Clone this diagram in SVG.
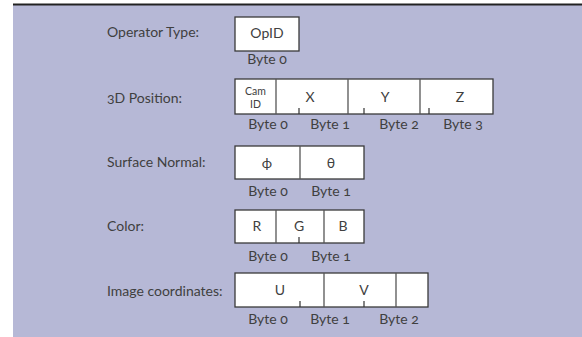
<svg xmlns="http://www.w3.org/2000/svg" width="582" height="337" viewBox="0 0 582 337">
<style>
.lbl{font-family:Lato,"Liberation Sans",sans-serif;font-size:14px;fill:#404040;font-variant-numeric:oldstyle-nums;}
.cell{font-family:Lato,"Liberation Sans",sans-serif;font-size:14px;fill:#404040;text-anchor:middle;}
.small{font-family:Lato,"Liberation Sans",sans-serif;font-size:10.5px;fill:#404040;text-anchor:middle;}
.byte{font-family:Lato,"Liberation Sans",sans-serif;font-size:14px;fill:#404040;text-anchor:middle;font-variant-numeric:oldstyle-nums;}
.box{fill:#ffffff;stroke:#3a3a3a;stroke-width:1.3;}
.div{stroke:#555555;stroke-width:1.3;}
.tick{stroke:#333333;stroke-width:1.2;}
</style>
<rect x="13" y="4" width="569" height="333" fill="#b6b8d6"/>
<line x1="13" y1="4.5" x2="582" y2="4.5" stroke="#222222" stroke-width="2"/>
<g id="operator-type">
<text class="lbl" x="107" y="37">Operator Type:</text>
<rect class="box" x="235" y="17" width="64" height="34"/>
<text class="cell" x="267" y="38">OpID</text>
<text class="byte" x="267" y="64">Byte 0</text>
</g>
<g id="position-3d">
<text class="lbl" x="107" y="103">3D Position:</text>
<rect class="box" x="235" y="79" width="258" height="35"/>
<line class="div" x1="276" y1="79" x2="276" y2="114"/>
<line class="div" x1="348" y1="79" x2="348" y2="114"/>
<line class="div" x1="420" y1="79" x2="420" y2="114"/>
<line class="tick" x1="299" y1="114" x2="299" y2="108"/>
<line class="tick" x1="364" y1="114" x2="364" y2="108"/>
<line class="tick" x1="429" y1="114" x2="429" y2="108"/>
<text class="small" x="255.5" y="95">Cam</text>
<text class="small" x="255.5" y="108">ID</text>
<text class="cell" x="310" y="102">X</text>
<text class="cell" x="385" y="102">Y</text>
<text class="cell" x="460" y="102">Z</text>
<text class="byte" x="268" y="129">Byte 0</text>
<text class="byte" x="330" y="129">Byte 1</text>
<text class="byte" x="399" y="129">Byte 2</text>
<text class="byte" x="463" y="129">Byte 3</text>
</g>
<g id="surface-normal">
<text class="lbl" x="107" y="167">Surface Normal:</text>
<rect class="box" x="235" y="146" width="129" height="33"/>
<line class="div" x1="300" y1="146" x2="300" y2="179"/>
<text class="cell" x="267" y="168">ϕ</text>
<text class="cell" x="331" y="168">θ</text>
<text class="byte" x="268" y="196">Byte 0</text>
<text class="byte" x="331" y="196">Byte 1</text>
</g>
<g id="color">
<text class="lbl" x="107" y="231">Color:</text>
<rect class="box" x="235" y="210" width="129" height="33"/>
<line class="div" x1="276" y1="210" x2="276" y2="243"/>
<line class="div" x1="324" y1="210" x2="324" y2="243"/>
<line class="tick" x1="299" y1="243" x2="299" y2="237"/>
<text class="cell" x="257" y="231">R</text>
<text class="cell" x="299" y="231">G</text>
<text class="cell" x="343" y="231">B</text>
<text class="byte" x="268" y="261">Byte 0</text>
<text class="byte" x="331" y="261">Byte 1</text>
</g>
<g id="image-coordinates">
<text class="lbl" x="107" y="296">Image coordinates:</text>
<rect class="box" x="235" y="273" width="193" height="34"/>
<line class="div" x1="324" y1="273" x2="324" y2="307"/>
<line class="div" x1="396" y1="273" x2="396" y2="307"/>
<line class="tick" x1="300" y1="307" x2="300" y2="301"/>
<line class="tick" x1="364" y1="307" x2="364" y2="301"/>
<text class="cell" x="280" y="295">U</text>
<text class="cell" x="364" y="295">V</text>
<text class="byte" x="268" y="324">Byte 0</text>
<text class="byte" x="330" y="324">Byte 1</text>
<text class="byte" x="399" y="324">Byte 2</text>
</g>
<g id="connectors"></g>
</svg>
